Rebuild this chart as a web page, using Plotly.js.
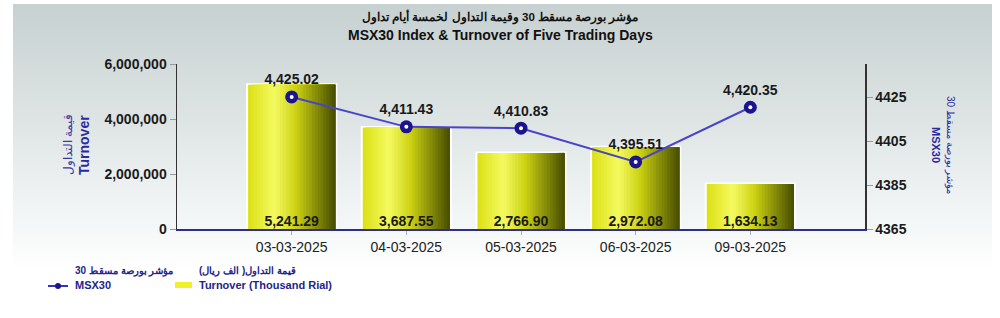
<!DOCTYPE html>
<html>
<head>
<meta charset="utf-8">
<script src="https://cdn.plot.ly/plotly-3.0.1.min.js"></script>
<style>
  html, body { margin:0; padding:0; background:#ffffff; }
  #bg { position:absolute; left:13px; top:4px; width:979px; height:268px;
        background: linear-gradient(to bottom, #c7d1d1 0%, #dfe5e5 45%, #f3f6f6 80%, #ffffff 100%); }
  #chart { position:absolute; left:0; top:0; width:1000px; height:318px; }
</style>
</head>
<body>
<div id="bg"></div>
<div id="chart"></div>
<script>
// ---- data ----
const dates = ["03-03-2025", "04-03-2025", "05-03-2025", "06-03-2025", "09-03-2025"];
const turnoverThousand = [5241.29, 3687.55, 2766.90, 2972.08, 1634.13];
const msx30 = [4425.02, 4411.43, 4410.83, 4395.51, 4420.35];
const leftTicks = [0, 2000000, 4000000, 6000000];
const rightTicks = [4365, 4385, 4405, 4425];

// ---- derived ----
const turnoverRial = turnoverThousand.map(v => v * 1000);
const fmt2 = v => v.toLocaleString('en-US', {minimumFractionDigits: 2, maximumFractionDigits: 2});
const xIdx = dates.map((d, i) => i);

const W = 1000, H = 318, L = 177, R = 135, T = 64, B = 89;
const px = x => (x - L) / (W - L - R);
const py = y => 1 - (y - T) / (H - T - B);

const font = "Liberation Sans, Arial, sans-serif";
const navy = "#24248a";

const traces = [];
const barW = 0.76;
// white border base
traces.push({
  type: 'bar', x: xIdx, y: turnoverRial, width: barW + 0.01,
  marker: {color: '#ffffff', line: {width: 3, color: '#ffffff'}}, hoverinfo: 'skip', showlegend: false, yaxis: 'y'
});
// gradient strips (each strip extends to the right edge; later ones drawn on top)
const N = 30;
function lerp(a, b, t) { return Math.round(a + (b - a) * t); }
const stops = [[0, [220, 224, 20]], [0.3, [244, 250, 96]], [0.55, [204, 210, 18]], [1, [70, 76, 0]]];
function colorAt(t) {
  for (let k = 0; k < stops.length - 1; k++) {
    const [t0, c0] = stops[k], [t1, c1] = stops[k + 1];
    if (t >= t0 && t <= t1) {
      const u = (t - t0) / (t1 - t0);
      return `rgb(${lerp(c0[0], c1[0], u)},${lerp(c0[1], c1[1], u)},${lerp(c0[2], c1[2], u)})`;
    }
  }
  return 'rgb(70,76,0)';
}
const sw = barW / N;
for (let i = 0; i < N; i++) {
  traces.push({
    type: 'bar', x: xIdx, y: turnoverRial, width: barW - i * sw, offset: -barW / 2 + i * sw,
    marker: {color: colorAt((i + 0.5) / N), line: {width: 0}},
    hoverinfo: 'skip', showlegend: false, yaxis: 'y'
  });
}
// bar value labels
traces.push({
  type: 'scatter', mode: 'text', x: xIdx, y: turnoverRial.map(() => 0),
  text: turnoverThousand.map(fmt2), textposition: 'top center',
  textfont: {family: font, size: 14, color: '#1a1a1a', weight: 'bold'},
  showlegend: false, hoverinfo: 'skip', yaxis: 'y', cliponaxis: false
});
// index line
traces.push({
  type: 'scatter', mode: 'lines+markers+text', x: xIdx, y: msx30, yaxis: 'y2',
  line: {color: '#4a44c8', width: 2},
  marker: {color: '#1c148e', size: 13, line: {color: '#1c148e', width: 0}},
  text: msx30.map(fmt2), textposition: 'top center',
  textfont: {family: font, size: 14, color: '#1a1a1a', weight: 'bold'},
  showlegend: false, cliponaxis: false
});
traces.push({
  type: 'scatter', mode: 'markers', x: xIdx, y: msx30, yaxis: 'y2',
  marker: {color: '#ffffff', size: 4}, showlegend: false, hoverinfo: 'skip'
});

const annotations = [
  {text: "مؤشر بورصة مسقط 30 وقيمة التداول لخمسة أيام تداول", x: 0.5, y: 17, font: {size: 11.5, weight: 'bold'}},
  {text: "MSX30 Index & Turnover of Five Trading Days", x: 0.5, y: 35, font: {size: 14, weight: 'bold'}},
].map(a => ({text: a.text, xref: 'paper', yref: 'paper', x: px(500), y: py(a.y), showarrow: false,
  xanchor: 'center', yanchor: 'middle', font: Object.assign({family: font, color: '#111'}, a.font)}));

// axis titles
annotations.push({text: "قيمة التداول", xref: 'paper', yref: 'paper', x: px(59), y: py(145), textangle: -90,
  showarrow: false, font: {family: font, size: 12, color: '#3a3aa6'}});
annotations.push({text: "<b>Turnover</b>", xref: 'paper', yref: 'paper', x: px(74), y: py(145), textangle: -90,
  showarrow: false, font: {family: font, size: 14, color: '#2a2aa0'}});
annotations.push({text: "مؤشر بورصة مسقط 30", xref: 'paper', yref: 'paper', x: px(958), y: py(145), textangle: 90,
  showarrow: false, font: {family: font, size: 10, color: '#2a2aa0'}});
annotations.push({text: "<b>MSX30</b>", xref: 'paper', yref: 'paper', x: px(944), y: py(145), textangle: 90,
  showarrow: false, font: {family: font, size: 11, color: '#2a2aa0'}});

// legend texts
const legFont = {family: font, size: 11, color: navy, weight: 'bold'};
const legAr = Object.assign({}, legFont, {size: 10});
annotations.push({text: "مؤشر بورصة مسقط 30", xref: 'paper', yref: 'paper', x: px(73), y: py(279), xanchor: 'left', showarrow: false, font: legAr});
annotations.push({text: "MSX30", xref: 'paper', yref: 'paper', x: px(73), y: py(293), xanchor: 'left', showarrow: false, font: legFont});
annotations.push({text: "قيمة التداول( الف ريال)", xref: 'paper', yref: 'paper', x: px(197), y: py(279), xanchor: 'left', showarrow: false, font: legAr});
annotations.push({text: "Turnover (Thousand Rial)", xref: 'paper', yref: 'paper', x: px(197), y: py(293), xanchor: 'left', showarrow: false, font: legFont});

const shapes = [
  {type: 'line', xref: 'paper', yref: 'paper', x0: px(48), x1: px(68), y0: py(286), y1: py(286), line: {color: '#3a32c0', width: 2}},
  {type: 'circle', xref: 'paper', yref: 'paper', x0: px(55), x1: px(61), y0: py(283), y1: py(289), fillcolor: '#1c148e', line: {width: 0}},
  {type: 'rect', xref: 'paper', yref: 'paper', x0: px(175), x1: px(192), y0: py(282), y1: py(288), fillcolor: '#eef02a', line: {width: 0}},
];

const layout = {
  width: W, height: H,
  margin: {l: L, r: R, t: T, b: B, pad: 0},
  paper_bgcolor: 'rgba(0,0,0,0)', plot_bgcolor: 'rgba(0,0,0,0)',
  barmode: 'overlay', showlegend: false,
  xaxis: {
    range: [-1, 5], tickvals: xIdx, ticktext: dates, showgrid: false, zeroline: false,
    showline: true, linecolor: '#2e2e8a', linewidth: 2, ticks: 'outside', ticklen: 4, tickcolor: '#aab',
    tickfont: {family: font, size: 14, color: '#222'}, fixedrange: true
  },
  yaxis: {
    range: [0, 6000000], tickvals: leftTicks, ticktext: leftTicks.map(v => v.toLocaleString('en-US')),
    showgrid: false, zeroline: false, showline: true, linecolor: '#333', linewidth: 1.5,
    ticks: 'outside', ticklen: 6, tickcolor: '#999',
    tickfont: {family: font, size: 14, color: '#1a1a1a', weight: 'bold'}
  },
  yaxis2: {
    range: [4365, 4440], tickvals: rightTicks, overlaying: 'y', side: 'right',
    showgrid: false, zeroline: false, showline: true, linecolor: '#333', linewidth: 1.5,
    ticks: 'outside', ticklen: 6, tickcolor: '#999',
    tickfont: {family: font, size: 14, color: '#1a1a1a', weight: 'bold'}
  },
  annotations: annotations, shapes: shapes
};

Plotly.newPlot('chart', traces, layout, {displayModeBar: false, staticPlot: true});
</script>
</body>
</html>
